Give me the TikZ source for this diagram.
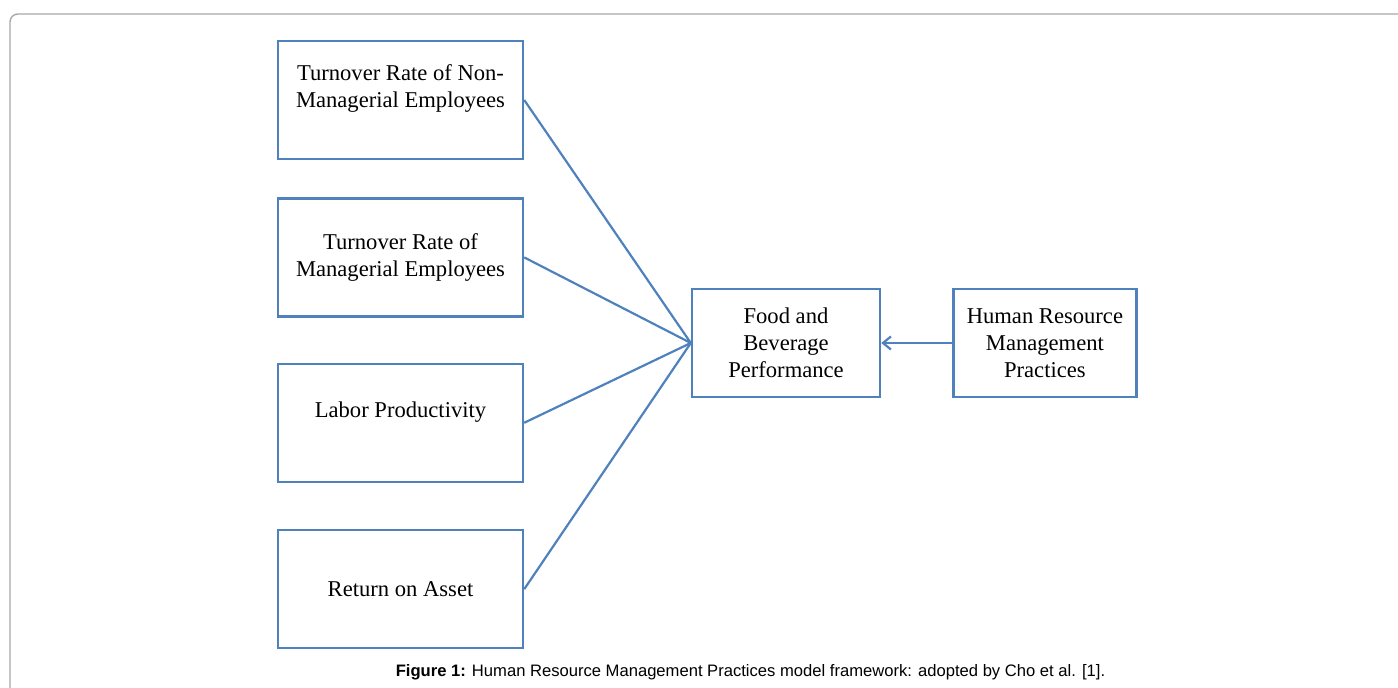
\documentclass[tikz,border=0pt]{standalone}
\usepackage{fontspec}
\setmainfont{Liberation Serif}
\newfontfamily\capfont{Liberation Sans}
\usetikzlibrary{arrows.meta,positioning}

\definecolor{boxblue}{HTML}{4F81BD}
\definecolor{framegray}{HTML}{A8A8A8}

\begin{document}
\begin{tikzpicture}[x=0.5pt, y=-0.5pt, >={Straight Barb[length=4pt,width=6.5pt]},
	   font=\fontsize{11.3pt}{13.5pt}\selectfont,
	   box/.style={draw=boxblue, line width=1.2pt, align=center, inner sep=2pt,
	     minimum width=122.5pt, minimum height=59pt},
	   conn/.style={draw=boxblue, line width=1.1pt},
	   figcap/.style={font=\capfont\fontsize{8.3pt}{10pt}\selectfont}]
	  \useasboundingbox (0,0) rectangle (1398,688);
	  % page frame
	  \draw[framegray, line width=0.7pt, rounded corners=4pt] (10,720) |- (1430,14);
	  % the four factors on the left
	  \node[box] (tnm) at (400.5,100) {Turnover Rate of Non-\\Managerial Employees\\\mbox{}};
	  \node[box, below=18.5pt of tnm] (tm) {Turnover Rate of\\Managerial Employees};
	  \node[box, below=22.5pt of tm] (lp) {Labor Productivity\\\mbox{}};
	  \node[box, below=23pt of lp] (roa) {Return on Asset};
	  % outcome and moderator
	  \node[box, minimum width=94pt, minimum height=54pt] (fbp) at (786,343) {Food and\\Beverage\\Performance};
	  \node[box, minimum width=91.5pt, minimum height=54pt, right=35.5pt of fbp] (hrm) {Human Resource\\Management\\Practices};
	  \draw[conn] (tnm.east) -- (fbp.west);
	  \draw[conn] (tm.east) -- (fbp.west);
	  \draw[conn] (lp.east) -- (fbp.west);
	  \draw[conn] (roa.east) -- (fbp.west);
	  \draw[conn, ->] (hrm) -- (fbp);
	  \node[figcap] (caption) at (750.5,672) {\textbf{Figure 1:} Human Resource Management Practices model framework: adopted by Cho et al. [1].};
	\end{tikzpicture}
\end{document}
